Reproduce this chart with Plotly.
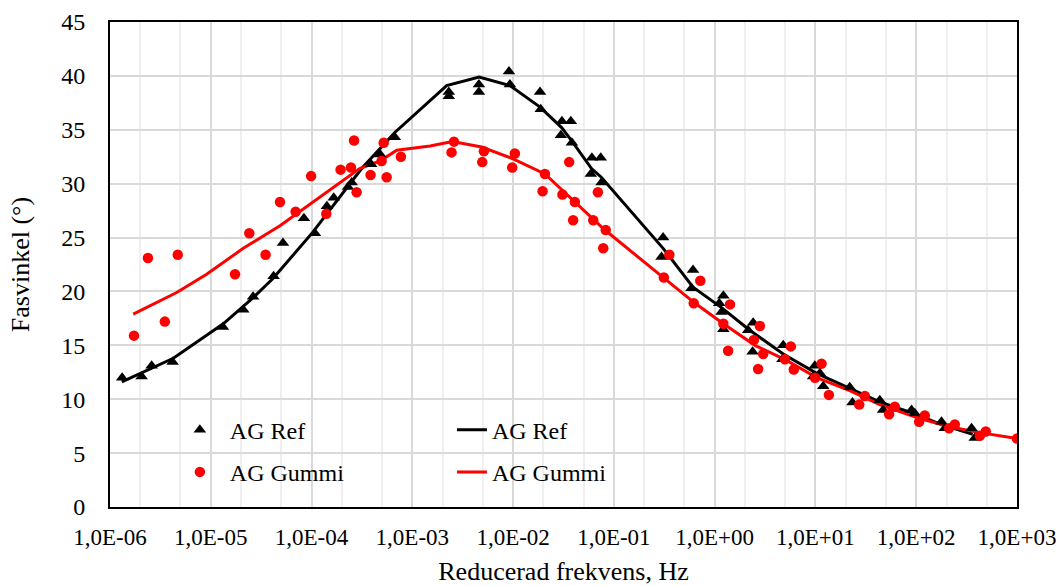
import plotly.graph_objects as go

# AG Ref measured points
ref_x = [1.32e-6, 2.06e-6, 2.59e-6, 4.18e-6, 1.32e-5, 2.1e-5, 2.63e-5, 4.2e-5, 5.2e-5, 8.4e-5,
         1.08e-4, 1.42e-4, 1.66e-4, 2.3e-4, 2.5e-4, 3.9e-4, 4.8e-4, 6.7e-4, 2.3e-3, 2.3e-3,
         4.58e-3, 4.58e-3, 9.1e-3, 9.3e-3, 1.85e-2, 1.88e-2, 3.05e-2, 3.74e-2, 2.98e-2, 3.83e-2,
         6.05e-2, 7.4e-2, 5.9e-2, 7.55e-2, 0.308, 0.297, 0.61, 0.59, 1.22, 1.11,
         1.17, 1.22, 2.41, 2.15, 2.38, 4.79, 4.71, 9.86, 9.49, 11.07,
         11.95, 21.9, 23.3, 43.5, 46.9, 89.8, 96.8, 178, 192, 354, 381]
ref_y = [12.0, 12.1, 13.1, 13.45, 16.7, 18.3, 19.5, 21.4, 24.5, 26.8,
         25.4, 27.9, 28.7, 29.7, 30.1, 31.8, 32.7, 34.3, 38.5, 38.1,
         39.2, 38.5, 40.4, 39.2, 38.5, 36.9, 35.8, 35.8, 34.5, 33.8,
         32.4, 32.4, 30.9, 30.1, 25.0, 23.2, 22.0, 20.3, 19.6, 18.9,
         18.1, 16.5, 17.1, 16.4, 14.4, 15.0, 13.7, 13.1, 12.1, 12.4,
         11.2, 11.1, 9.7, 9.9, 9.0, 9.0, 8.7, 7.9, 7.3, 7.3, 6.4]

# AG Gummi measured points
gum_x = [1.73e-6, 2.38e-6, 3.5e-6, 4.7e-6, 1.74e-5, 2.41e-5, 3.5e-5, 4.86e-5, 6.95e-5, 9.9e-5,
         1.4e-4, 1.94e-4, 2.46e-4, 2.64e-4, 2.8e-4, 3.85e-4, 4.96e-4, 5.2e-4, 5.56e-4, 7.7e-4,
         2.45e-3, 2.59e-3, 4.94e-3, 5.13e-3, 9.8e-3, 1.04e-2, 1.96e-2, 2.07e-2, 3.09e-2, 3.6e-2,
         3.94e-2, 4.1e-2, 6.24e-2, 6.94e-2, 8.3e-2, 7.84e-2, 0.355, 0.313, 0.72, 0.62,
         1.42, 1.22, 1.36, 2.81, 2.45, 3.03, 2.7, 5.7, 4.98, 6.1,
         11.5, 9.9, 13.6, 30.9, 27.2, 61.4, 53.8, 121.6, 106.9, 241.5,
         212, 490, 428, 1000]
gum_y = [15.9, 23.1, 17.2, 23.4, 21.6, 25.4, 23.4, 28.3, 27.4, 30.7,
         27.2, 31.3, 31.5, 34.0, 29.2, 30.8, 32.1, 33.8, 30.6, 32.5,
         32.9, 33.9, 32.0, 33.0, 31.5, 32.8, 29.3, 30.9, 29.0, 32.0,
         26.6, 28.3, 26.6, 29.2, 25.7, 24.0, 23.4, 21.3, 21.0, 18.9,
         18.8, 17.0, 14.5, 16.8, 15.5, 14.2, 12.8, 14.9, 13.7, 12.75,
         13.3, 12.0, 10.4, 10.3, 9.5, 9.3, 8.6, 8.5, 7.9, 7.65,
         7.3, 7.0, 6.6, 6.35]

# AG Ref model curve
ref_fit_x = [1.31e-6, 4.25e-6, 1.33e-5, 2.62e-5, 4.14e-5, 1.03e-4, 3.14e-4, 6.7e-4, 2.19e-3, 4.6e-3,
             9.3e-3, 1.85e-2, 3.03e-2, 3.8e-2, 6.0e-2, 7.5e-2, 0.308, 0.61, 1.17, 2.23,
             4.79, 10.3, 21.9, 43.4, 92.5, 184, 365]
ref_fit_y = [11.6, 13.8, 17.0, 19.4, 21.2, 25.5, 31.4, 34.75, 39.1, 39.9,
             39.1, 37.1, 35.2, 34.0, 31.4, 30.6, 24.0, 20.4, 18.5, 16.4,
             14.2, 12.4, 11.0, 9.75, 8.7, 7.6, 6.75]

# AG Gummi model curve
gum_fit_x = [1.70e-6, 4.59e-6, 9.1e-6, 2.1e-5, 4.86e-5, 3.0e-4, 4.77e-4, 7.0e-4, 1.5e-3, 2.5e-3,
             4.87e-3, 1.0e-2, 2.07e-2, 4.1e-2, 8.15e-2, 0.308, 0.64, 1.22, 2.51, 5.17,
             10.3, 21.9, 43.4, 108.6, 215, 428, 1000]
gum_fit_y = [17.9, 19.9, 21.6, 24.0, 26.1, 31.4, 32.1, 33.1, 33.5, 33.9,
             33.4, 32.3, 30.9, 28.3, 25.7, 21.3, 18.9, 17.0, 15.0, 13.6,
             12.0, 10.8, 9.5, 8.2, 7.45, 6.9, 6.35]

tick_vals = [1e-6, 1e-5, 1e-4, 1e-3, 1e-2, 1e-1, 1e0, 1e1, 1e2, 1e3]
tick_text = ["1,0E-06", "1,0E-05", "1,0E-04", "1,0E-03", "1,0E-02", "1,0E-01",
             "1,0E+00", "1,0E+01", "1,0E+02", "1,0E+03"]

FONT = "Liberation Serif, Times New Roman, serif"

fig = go.Figure()
fig.add_trace(go.Scatter(x=ref_fit_x, y=ref_fit_y, mode="lines", name="AG Ref",
                         line=dict(color="black", width=3), legend="legend2", legendgroup="b1"))
fig.add_trace(go.Scatter(x=gum_fit_x, y=gum_fit_y, mode="lines", name="AG Gummi",
                         line=dict(color="#ff0000", width=3), legend="legend2", legendgroup="b2"))
fig.add_trace(go.Scatter(x=ref_x, y=ref_y, mode="markers", name="AG Ref",
                         marker=dict(symbol="triangle-up", color="black", size=11),
                         legend="legend", legendgroup="a1"))
fig.add_trace(go.Scatter(x=gum_x, y=gum_y, mode="markers", name="AG Gummi",
                         marker=dict(symbol="circle", color="#ff0000", size=10.5),
                         legend="legend", legendgroup="a2"))

fig.add_shape(type="rect", xref="paper", yref="paper", x0=0.0187, x1=0.592, y0=0.025, y1=0.2,
              fillcolor="white", line=dict(width=0), layer="between")

fig.update_layout(
    width=1059, height=586,
    margin=dict(l=110, r=42, t=22, b=79, autoexpand=False),
    paper_bgcolor="white", plot_bgcolor="white",
    font=dict(family=FONT, size=24, color="black"),
    legend=dict(x=0.066, y=0.205, xanchor="left", yanchor="top", bgcolor="rgba(0,0,0,0)",
                font=dict(size=24), tracegroupgap=8, traceorder="grouped", itemwidth=50),
    legend2=dict(x=0.377, y=0.205, xanchor="left", yanchor="top", bgcolor="rgba(0,0,0,0)",
                 font=dict(size=24), tracegroupgap=8, traceorder="grouped", itemwidth=30),
)

fig.update_xaxes(
    type="log", range=[-6, 3], automargin=False,
    tickvals=tick_vals, ticktext=tick_text,
    tickfont=dict(size=23, family=FONT),
    showgrid=True, gridcolor="#d9d9d9", gridwidth=1.5,
    minor=dict(showgrid=True, gridcolor="#efefef", gridwidth=1.5),
    showline=True, linecolor="black", linewidth=2, mirror=True,
    ticks="", ticklabelstandoff=8,
    title=dict(text="Reducerad frekvens, Hz", font=dict(size=26, family=FONT), standoff=14),
    zeroline=False,
)
fig.update_yaxes(
    range=[0, 45], dtick=5, automargin=False,
    tickfont=dict(size=24, family=FONT),
    showgrid=True, gridcolor="#d9d9d9", gridwidth=1.5,
    showline=True, linecolor="black", linewidth=2, mirror=True,
    ticks="", ticklabelstandoff=18,
    title=dict(text="Fasvinkel (°)", font=dict(size=26, family=FONT), standoff=24),
    zeroline=False,
)

fig.write_html("out.html")
